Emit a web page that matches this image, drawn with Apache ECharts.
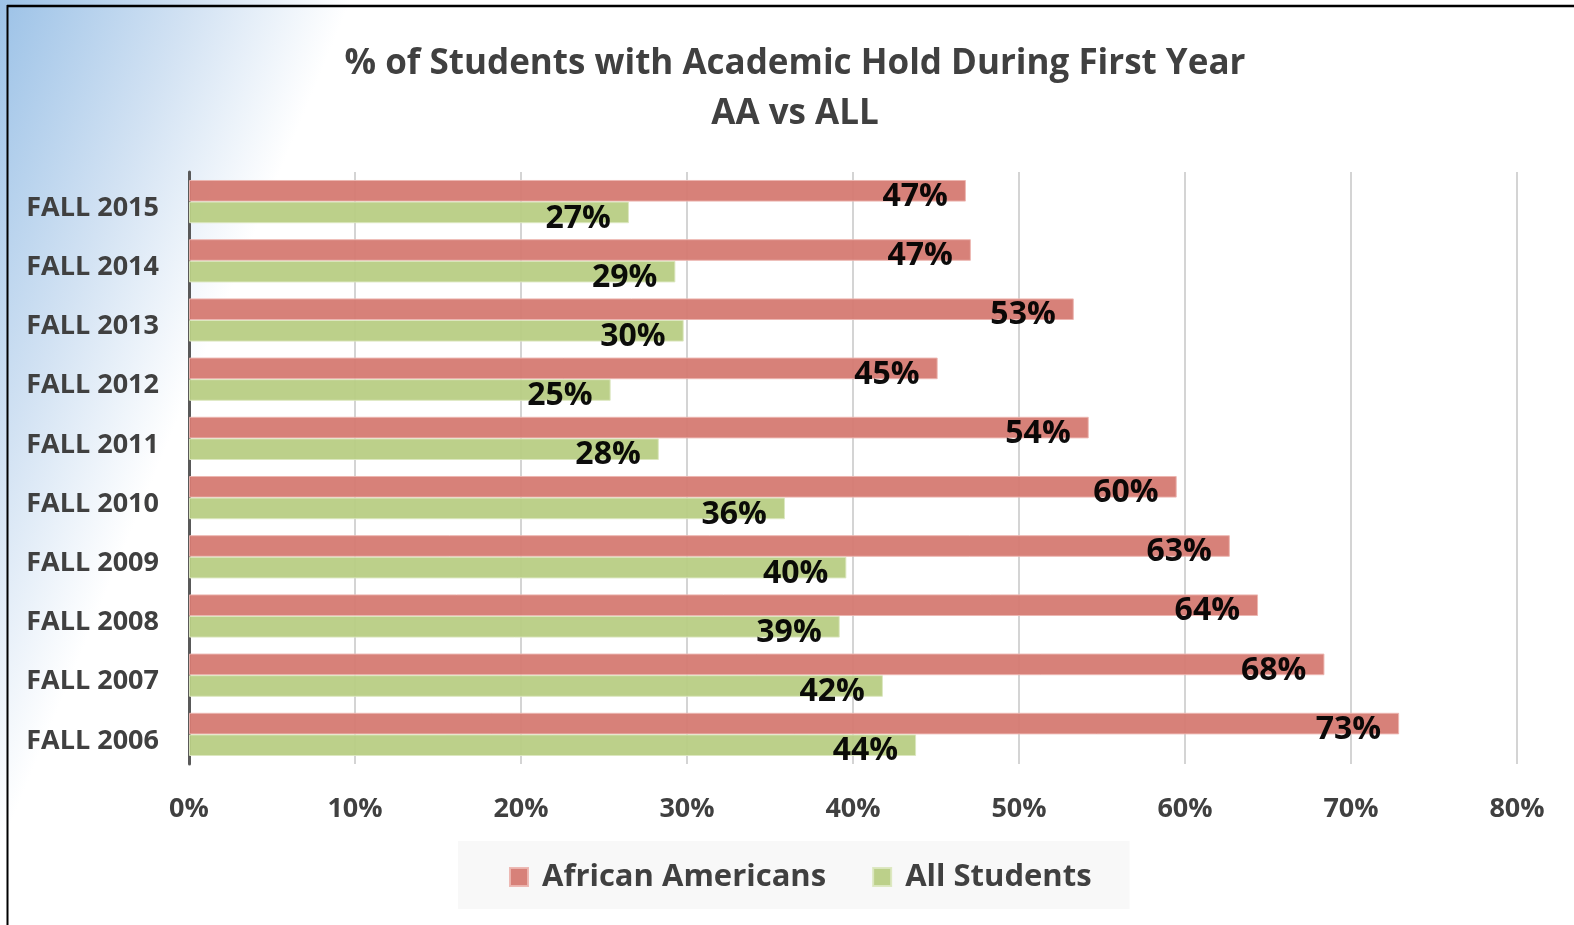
<!DOCTYPE html>
<html lang="en">

<head>
    <meta charset="UTF-8">
    <title>Academic Hold</title>
    <script src="https://cdn.jsdelivr.net/npm/echarts@6/dist/echarts.min.js"></script>
    <style>
        html, body { margin: 0; padding: 0; background: #fff; }
    </style>
</head>

<body>
    <div id="main" style="width: 1574px;height:925px;"></div>
</body>
<script type="text/javascript">

    // categories, top to bottom
    var terms = ['FALL 2015', 'FALL 2014', 'FALL 2013', 'FALL 2012', 'FALL 2011',
        'FALL 2010', 'FALL 2009', 'FALL 2008', 'FALL 2007', 'FALL 2006'];
    // % with academic hold
    var africanAmericans = [46.8, 47.1, 53.3, 45.1, 54.2, 59.5, 62.7, 64.4, 68.4, 72.9];
    var allStudents = [26.5, 29.3, 29.8, 25.4, 28.3, 35.9, 39.6, 39.2, 41.8, 43.8];
    var xTicks = [0, 10, 20, 30, 40, 50, 60, 70, 80];

    var font = 'Open Sans';
    var myChart = echarts.init(document.getElementById('main'));

    var labelStyle = {
        show: true,
        position: 'insideRight',
        distance: 18,
        offset: [0, 6],
        color: '#000',
        fontFamily: font,
        fontWeight: 'bold',
        fontSize: 32,
        formatter: function (p) { return Math.round(p.value) + '%'; }
    };

    option = {
        animation: false,
        backgroundColor: '#fff',
        graphic: [
            {   // blue corner wash
                type: 'rect', z: -10, silent: true,
                shape: { x: 0, y: 0, width: 1574, height: 925 },
                style: {
                    fill: new echarts.graphic.LinearGradient(0, 0, 300, 124, [
                        { offset: 0, color: '#9cc2e7' },
                        { offset: 0.55, color: '#d2e2f3' },
                        { offset: 1, color: '#ffffff' }
                    ], true)
                }
            },
            {
                type: 'line', z: 10, silent: true,
                shape: { x1: 7, y1: 6, x2: 1574, y2: 6 },
                style: { stroke: '#000', lineWidth: 2.5 }
            },
            {
                type: 'line', z: 10, silent: true,
                shape: { x1: 7.5, y1: 5, x2: 7.5, y2: 925 },
                style: { stroke: '#000', lineWidth: 2 }
            }
        ],
        title: {
            text: '% of Students with Academic Hold During First Year\nAA vs ALL',
            left: 790,
            textAlign: 'center',
            top: 34,
            textStyle: {
                fontFamily: font,
                fontWeight: 'bold',
                fontSize: 35,
                lineHeight: 50,
                color: '#404040'
            }
        },
        legend: {
            left: 458,
            top: 841,
            padding: [18, 38, 14, 51],
            backgroundColor: '#f8f8f8',
            itemWidth: 18,
            itemHeight: 18,
            itemGap: 46,
            icon: 'rect',
            textStyle: {
                fontFamily: font,
                fontWeight: 'bold',
                fontSize: 31,
                lineHeight: 36,
                color: '#404040',
                padding: [0, 0, 0, 9]
            }
        },
        grid: {
            left: 189,
            right: 57,
            top: 172,
            bottom: 161
        },
        xAxis: {
            type: 'value',
            min: xTicks[0],
            max: xTicks[xTicks.length - 1],
            interval: 10,
            axisLine: { show: false },
            axisTick: { show: false },
            splitLine: { show: true, lineStyle: { color: '#d4d4d4', width: 2 } },
            axisLabel: {
                margin: 32,
                formatter: '{value}%',
                fontFamily: font,
                fontWeight: 'bold',
                fontSize: 27,
                color: '#404040'
            }
        },
        yAxis: {
            type: 'category',
            data: terms,
            inverse: true,
            axisTick: { show: false },
            axisLine: { show: true, lineStyle: { color: '#595959', width: 3 } },
            axisLabel: {
                margin: 30,
                verticalAlign: 'top',
                lineHeight: 13,
                fontFamily: font,
                fontWeight: 'bold',
                fontSize: 27,
                color: '#404040'
            }
        },
        series: [
            {
                name: 'African Americans',
                type: 'bar',
                data: africanAmericans,
                barGap: '0%',
                barCategoryGap: '27%',
                itemStyle: { color: '#d57a72', borderColor: '#ecb5b0', borderWidth: 1, opacity: 0.95 },
                label: labelStyle
            },
            {
                name: 'All Students',
                type: 'bar',
                data: allStudents,
                barGap: '0%',
                barCategoryGap: '27%',
                itemStyle: { color: '#b8cd84', borderColor: '#dbe7bf', borderWidth: 1, opacity: 0.95 },
                label: labelStyle
            }
        ]
    };
    myChart.setOption(option);

</script>

</html>
